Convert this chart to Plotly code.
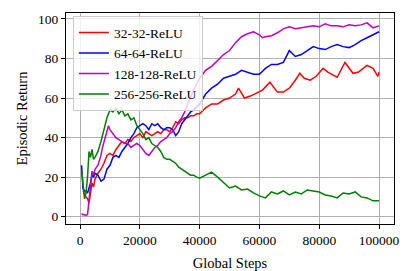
import plotly.graph_objects as go

# ---- data ----
steps_32 = [1000, 1500, 2000, 2500, 3000, 3500, 4000, 4500, 5000, 6000, 7000, 8000, 9000, 10000,
            11000, 12000, 13000, 14000, 15000, 16000, 17000, 18000, 19000, 20000, 21000, 22000,
            23000, 24000, 25000, 26000, 27000, 28000, 29000, 30000, 31000, 32000, 33000, 34000,
            35000, 36000, 37000, 38000, 39000, 40000, 42000, 44000, 46000, 48000, 50000, 52000,
            53000, 55000, 57000, 59000, 61000, 63500, 66000, 68000, 70000, 72000, 73500, 75000,
            77000, 79000, 81300, 83000, 86000, 88600, 90000, 91300, 93000, 96000, 98000, 99600, 100000]
ret_32 = [13, 11, 10, 9, 7, 12, 17, 15, 19, 22, 24, 27, 31, 32,
          31, 34, 36, 38, 37, 39, 38, 40, 41, 42, 40, 43,
          42, 41, 42, 43, 42, 44, 44, 43, 45, 48, 47, 49,
          50, 50, 51, 51, 52, 52, 55, 57, 57, 59, 60, 62,
          65, 60, 61, 62.5, 64, 68, 63, 63, 65, 69, 72.5, 70,
          69, 71, 75, 73, 70.5, 78, 75, 72.5, 73, 76.5, 75, 71, 73]

steps_64 = [500, 1000, 1500, 2000, 2500, 3000, 3500, 4000, 4500, 5000, 6000, 7000, 8000, 9000,
            10000, 11000, 12000, 13000, 14000, 15000, 16000, 17000, 18000, 19000, 20000, 21000,
            22000, 23000, 24000, 25000, 26000, 27000, 28000, 29000, 30000, 31000, 32000, 33000,
            34000, 35000, 36000, 37000, 38000, 40000, 42000, 44000, 46000, 48000, 50000, 52000,
            54000, 56000, 58000, 60000, 62000, 64000, 66000, 68000, 70000, 72000, 74000, 76000,
            78000, 80000, 82000, 84000, 86000, 88000, 90000, 92000, 94000, 96000, 98000, 100000]
ret_64 = [26, 14, 13, 13, 12, 14, 17, 21, 20, 22, 21, 18, 19, 24,
          26, 30, 31, 30, 33, 35, 37, 40, 42, 45, 46, 47,
          46, 44, 47, 46, 47, 45, 44, 45, 45, 44, 41, 43,
          47, 49, 51, 53, 54, 57, 62, 65, 67, 70, 71, 72,
          74, 73, 72, 72, 75, 77, 77, 78, 84, 81, 82, 84,
          86, 85, 84.5, 86, 87, 86, 85.5, 87, 89, 90.5, 92, 93.5]

steps_128 = [500, 1000, 1500, 2000, 2500, 3000, 3500, 4000, 4500, 5000, 6000, 7000, 7500, 8000,
             9000, 9500, 10000, 11000, 12000, 13000, 14000, 15000, 16000, 17000, 18000, 19000,
             20000, 21000, 22000, 23000, 24000, 25000, 26000, 27000, 28000, 29000, 30000, 31000,
             32000, 33000, 34000, 35000, 36000, 37000, 38000, 39000, 40000, 42000, 44000, 46000,
             48000, 50000, 52000, 54000, 56000, 58000, 60000, 61000, 62000, 64000, 66000, 68000,
             70000, 72000, 74000, 76000, 78000, 80000, 82000, 84000, 86000, 88000, 90000, 92000,
             94000, 96000, 98000, 100000]
ret_128 = [1.5, 1, 1, 0.7, 1, 8, 18, 23, 21, 24, 26, 31, 35, 38,
           43, 46, 44, 42, 40, 39, 38, 37, 37, 35, 36, 37,
           36, 34, 32, 31, 33, 35, 36, 38, 39, 40, 42, 43,
           45, 48, 50, 53, 57, 61, 64, 67, 70, 74, 76, 79,
           82, 84, 88, 91, 92.5, 93.5, 92, 90.5, 91, 91.5, 93, 95,
           96, 95, 95.5, 96, 96.5, 96, 97.5, 96.5, 96.5, 96, 97, 96.5,
           97, 98, 95.5, 96.5]

steps_256 = [500, 1000, 1500, 2000, 2500, 3000, 3500, 4000, 4500, 5000, 6000, 7000, 8000, 9000,
             10000, 11000, 12000, 13000, 14000, 15000, 16000, 17000, 18000, 19000, 20000, 21000,
             22000, 23000, 24000, 25000, 26000, 27000, 28000, 29000, 30000, 31000, 32000, 33000,
             34000, 35000, 36000, 37000, 38000, 39000, 40000, 42000, 44000, 46000, 48000, 50000,
             52000, 54000, 56000, 58000, 60000, 62000, 64000, 66000, 68000, 70000, 72000, 74000,
             76000, 78000, 80000, 82000, 84000, 86000, 88000, 90000, 92000, 94000, 96000, 98000,
             100000]
ret_256 = [24, 15, 9, 12, 20, 33, 30, 34, 29, 30, 33, 38, 44, 50,
           54, 53, 55, 52, 54, 51, 52, 49, 50, 46, 44, 42,
           39, 40, 37, 36, 35, 33, 30, 29, 29, 28, 27, 25,
           24, 23, 22, 21, 21, 20, 19.5, 21, 22.5, 20, 17, 14.5,
           15.5, 13.5, 14, 12, 10.5, 9.5, 12.5, 11.5, 13, 11, 12.5, 11.5,
           13.5, 13, 12.5, 11, 10.5, 9.5, 12, 11.5, 12.5, 10, 9.5, 8,
           8]

series = [
    ("32-32-ReLU", steps_32, ret_32, "#ff0000"),
    ("64-64-ReLU", steps_64, ret_64, "#0000ff"),
    ("128-128-ReLU", steps_128, ret_128, "#bf00bf"),
    ("256-256-ReLU", steps_256, ret_256, "#008000"),
]

x_ticks = [0, 20000, 40000, 60000, 80000, 100000]
y_ticks = [0, 20, 40, 60, 80, 100]

FONT = "Liberation Serif"

fig = go.Figure()
for name, xs, ys, col in series:
    fig.add_trace(go.Scatter(x=xs, y=ys, mode="lines", name=name,
                             line=dict(color=col, width=1.5)))

axis_common = dict(showline=True, linecolor="black", linewidth=1.2, mirror=True,
                   ticks="outside", ticklen=4, tickcolor="black", tickwidth=1,
                   showgrid=True, gridcolor="#b0b0b0", gridwidth=1, zeroline=False,
                   automargin=False,
                   tickfont=dict(family=FONT, size=13.5, color="black"))

# the page body adds an 8px offset, so the figure is sized/margined to compensate
fig.update_layout(
    width=407, height=263,
    margin=dict(l=58, r=21, t=5, b=47),
    paper_bgcolor="white", plot_bgcolor="white",
    font=dict(family=FONT, size=14, color="black"),
    xaxis=dict(range=[-4700, 105000], tickvals=x_ticks,
               ticktext=[str(v) for v in x_ticks],
               title=dict(text="Global Steps", font=dict(family=FONT, size=14.5), standoff=10),
               **axis_common),
    yaxis=dict(range=[-3.7, 103], tickvals=y_ticks,
               ticktext=[str(v) for v in y_ticks],
               title=dict(text="Episodic Return", font=dict(family=FONT, size=14.5), standoff=6),
               **axis_common),
    legend=dict(x=0.021, y=0.985, xanchor="left", yanchor="top",
                bgcolor="rgba(255,255,255,0.8)", bordercolor="#cccccc", borderwidth=1,
                font=dict(family=FONT, size=13.5, color="black"),
                tracegroupgap=0, itemwidth=30),
    showlegend=True,
)

fig.write_html("out.html")
